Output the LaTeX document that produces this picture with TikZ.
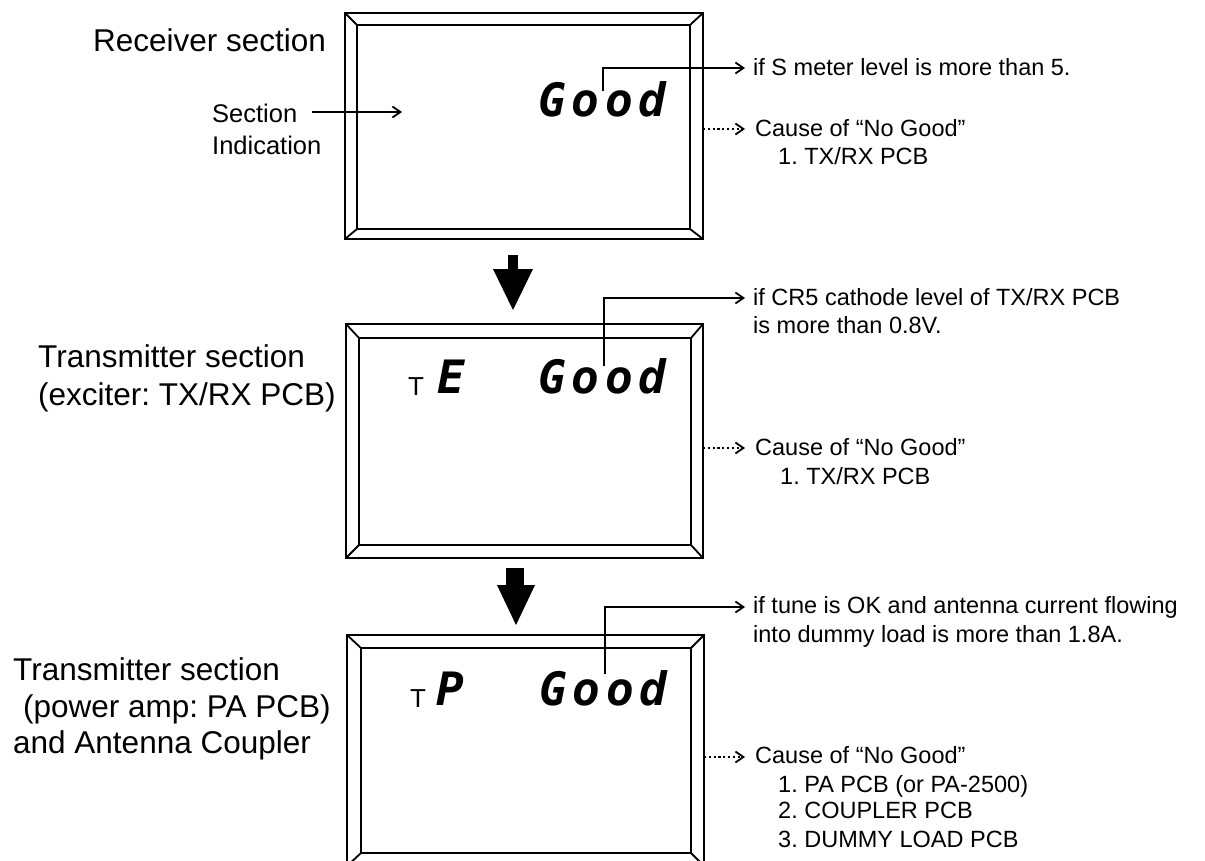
\documentclass[tikz,border=0pt]{standalone}
\usepackage{fontspec}
\setmainfont{Liberation Sans}
\newfontfamily\lcdfont[LetterSpace=12.6]{DejaVu Sans Mono Bold Oblique}
\usetikzlibrary{arrows.meta}
\frenchspacing
\tikzset{
  frameline/.style={line width=1.8pt, line join=miter},
  callout/.style={line width=1.8pt, -{Straight Barb[length=8pt,width=11pt,line width=1.8pt]}},
  dotcallout/.style={line width=1.8pt, dash pattern=on 2.2pt off 2.6pt, -{Straight Barb[length=8pt,width=11pt,line width=1.8pt]}},
  lbl/.style={inner sep=0pt, anchor=base west, font=\fontsize{31.5}{36}\selectfont},
  slbl/.style={inner sep=0pt, anchor=base west, font=\fontsize{25.5}{30}\selectfont},
  rtxt/.style={inner sep=0pt, anchor=base west, font=\fontsize{23.5}{28}\selectfont},
  lcd/.style={inner sep=0pt, anchor=base west, font=\fontsize{46}{50}\lcdfont},
  lcdsingle/.style={inner sep=0pt, anchor=base west, font=\fontsize{46}{50}\lcdfont},
  tsmall/.style={inner sep=0pt, anchor=base west, font=\fontsize{26}{30}\selectfont},
  bigarrow/.style={fill=black, draw=none}
}
\newcommand\bezelframe[8]{%
  \draw[frameline] (#1,#2) rectangle (#3,#4);
  \draw[frameline] (#5,#6) rectangle (#7,#8);
  \draw[frameline] (#1,#2) -- (#5,#6);
  \draw[frameline] (#3,#2) -- (#7,#6);
  \draw[frameline] (#1,#4) -- (#5,#8);
  \draw[frameline] (#3,#4) -- (#7,#8);
}
\begin{document}
\begin{tikzpicture}[x=1pt,y=-1pt]
\useasboundingbox (0,0) rectangle (1205,861);
\fill[white] (0,0) rectangle (1205,861);

% ---------- frames ----------
\bezelframe{345}{13}{703}{239}{357}{25}{690}{229}
\bezelframe{346}{324}{703}{558}{359}{338}{691}{545}
\begin{scope}
\clip (0,0) rectangle (1205,861);
\bezelframe{347}{635}{704}{866}{361}{648}{691}{853}
\end{scope}

% ---------- frame 1: receiver ----------
\node[lbl] (rx) at (93,52) {Receiver section};
\node[slbl] (sec) at (212,123) {Section};
\node[slbl] (ind) at (212,155) {Indication};
\coordinate (secstart) at (312,112);
\coordinate (secend) at (402,112);
\draw[callout] (secstart) -- (secend);
\node[lcd] (good1) at (538,117) {Good};
\coordinate (g1) at (603,91);
\coordinate (e1) at (745,68);
\draw[callout] (g1) |- (e1);
\node[rtxt] (s1) at (753,76) {if S meter level is more than 5.};
\coordinate (d1s) at (703,129);
\coordinate (d1e) at (745,129);
\draw[dotcallout] (d1s) -- (d1e);
\node[rtxt] (c1) at (755,137) {Cause of “No Good”};
\node[rtxt] (c1a) at (778,165) {1. TX/RX PCB};

% ---------- arrow 1 ----------
\fill[bigarrow] (508,255) rectangle (518,270);
\fill[bigarrow] (493,269) -- (533,269) -- (513,310) -- cycle;

% ---------- frame 2: exciter ----------
\node[lbl] (tx1a) at (38,367) {Transmitter section};
\node[lbl] (tx1b) at (38,405) {(exciter: TX/RX PCB)};
\node[tsmall] (t2) at (408,395) {T};
\node[lcdsingle] (e2) at (437,393) {E};
\node[lcd] (good2) at (538,393) {Good};
\coordinate (g2) at (604,366);
\coordinate (e2a) at (745,298);
\draw[callout] (g2) |- (e2a);
\node[rtxt] (s2a) at (753,305) {if CR5 cathode level of TX/RX PCB};
\node[rtxt] (s2b) at (753,333) {is more than 0.8V.};
\coordinate (d2s) at (703,448);
\coordinate (d2e) at (745,448);
\draw[dotcallout] (d2s) -- (d2e);
\node[rtxt] (c2) at (755,455) {Cause of “No Good”};
\node[rtxt] (c2a) at (780,484) {1. TX/RX PCB};

% ---------- arrow 2 ----------
\fill[bigarrow] (506,568) rectangle (524,586);
\fill[bigarrow] (497,585) -- (535,585) -- (516,625) -- cycle;

% ---------- frame 3: power amp ----------
\node[lbl] (tx2a) at (13,680) {Transmitter section};
\node[lbl] (tx2b) at (23,717) {(power amp: PA PCB)};
\node[lbl] (tx2c) at (13,753) {and Antenna Coupler};
\node[tsmall] (t3) at (410,707) {T};
\node[lcdsingle] (p3) at (436,705) {P};
\node[lcd] (good3) at (539,705) {Good};
\coordinate (g3) at (605,674);
\coordinate (e3) at (745,607);
\draw[callout] (g3) |- (e3);
\node[rtxt] (s3a) at (753,613) {if tune is OK and antenna current flowing};
\node[rtxt] (s3b) at (753,642) {into dummy load is more than 1.8A.};
\coordinate (d3s) at (704,757);
\coordinate (d3e) at (745,757);
\draw[dotcallout] (d3s) -- (d3e);
\node[rtxt] (c3) at (755,763) {Cause of “No Good”};
\node[rtxt] (c3a) at (778,792) {1. PA PCB (or PA-2500)};
\node[rtxt] (c3b) at (778,818) {2. COUPLER PCB};
\node[rtxt] (c3c) at (778,847) {3. DUMMY LOAD PCB};
\end{tikzpicture}
\end{document}
